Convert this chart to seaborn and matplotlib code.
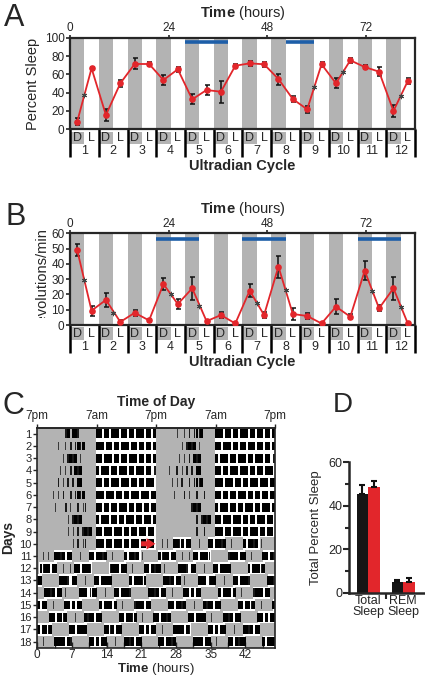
import numpy as np
import pandas as pd
import seaborn as sns
import matplotlib.pyplot as plt
from matplotlib.patches import Rectangle
from matplotlib.colors import ListedColormap

# ---- A: percent sleep per half (D, L) of each 7 h ultradian cycle
sleep_mean = [8.3, 66.6, 15.6, 50.2, 71.3, 71.3, 53.8, 65.5, 32.7, 42.9, 41.0, 69.4,
              72.0, 71.0, 54.9, 33.0, 21.8, 71.0, 50.2, 75.3, 68.0, 62.9, 20.0, 52.7]
sleep_err = [4, 1.5, 6.5, 4, 6, 2, 5.5, 3, 5.5, 5.5, 12, 2,
             3, 2.5, 6, 3, 3.5, 2.5, 5.5, 3, 2, 5, 6.5, 3]
sleep_star_cycle = [1, 9, 10, 12]
sleep_star_y = [37, 46, 63, 36]
sleep_blue = [(28, 38.5), (52.5, 59.5)]

# ---- B: wheel running (revolutions/min)
wheel_mean = [49, 9.4, 16.4, 2.0, 8.0, 3.0, 26.8, 13.7, 24.0, 2.5, 6.5, 1.0,
              22.5, 6.5, 38.2, 7.2, 5.9, 1.0, 12.0, 5.4, 35.5, 10.9, 24.0, 1.0]
wheel_err = [4, 3.3, 4.4, 1, 2, 1, 3.8, 3, 7.6, 1, 2, 0.5,
             4.4, 2, 7.2, 3.8, 2, 0.5, 4.8, 1.5, 6.2, 2, 7.6, 0.5]
wheel_star_cycle = [1, 2, 4, 5, 7, 8, 11, 12]
wheel_star_y = [29.4, 8, 20, 12.4, 14.6, 23, 22.5, 12]
wheel_blue = [(21, 31.5), (42, 52.5), (70, 80.5)]

# ---- C: actogram, one string per day (48 bins of 30 min from 7pm)
# '.' none, '1' sparse, '2' medium, '3' dense activity
act_days = [
    "...........23.332.......33.33.333.33.33.333.33.3",
    "........1..1.2.2323.....333.33.33.333.33.33.33.3",
    "..........1.2323.1......33.333.33.33.333.33.33.3",
    ".........1.1.2.323......3.333.33.333.33.333.33.2",
    ".....1..2.1.2.2.33......33.33.333.333.33.33.333.",
    "......1.1.2..2.2323.....333.333.33.33.333.333.33",
    ".......1...2.1..2.12....33.33.33.333.33.33.33.33",
    "............1.2323......3.333.33.33.333.33.333.3",
    "............1.1.2.2323..33.333.333.33.33.333.33.",
    "..............1.2.12....333.33.333.33.333.33.33.",
    "..1.1.." "3323.33" "...1..." "33.3323" "..1...." "3.3323." "1.....",
    "." "3233.33" "..1..1." "33.3332" "......." "2333.33" "..1...." "33.32",
    "33" ".1....." "3332.33" "...1..." "33.3333" "......." "3.33323" "....",
    "..." "3323.33" ".1....." "333.233" "...1..." "33.3332" "......." "332",
    "3.33" "..1...." "33.3.33" "......." "3.333.3" "..1...." "2333.33" "..",
    "....." "33.3323" "...1..." "3233.33" "......." "33.3323" "..1...." "3",
    "3.3323" "......." "33.3333" "..1...." "3323.33" "......." "33.3.33",
    "..1...." "3333.32" "......." "33.3.33" "...1..." "3323.33" "......",
    "." "33.3323" "......." "3333.33" "..1...." "33.3233" "......." "3.333",
]
ld_days = 10          # 12:12 LD for the first 10 days, then 3.5:3.5 ultradian
day_ticks = list(range(1, 19))
tod_labels = ['7pm', '7am', '7pm', '7am', '7pm']

# ---- D: total and REM sleep
sleep_kind = ['Total\nSleep', 'REM\nSleep']
ctrl_mean = [45.3, 4.8]
ctrl_err = [4.3, 1.0]
trt_mean = [48.6, 4.8]
trt_err = [2.6, 1.8]

sns.set_style("white")
plt.rcParams['font.family'] = ['Liberation Sans', 'DejaVu Sans']
plt.rcParams['mathtext.fontset'] = 'custom'
plt.rcParams['mathtext.rm'] = 'Liberation Sans'
plt.rcParams['mathtext.bf'] = 'Liberation Sans:bold'
plt.rcParams['axes.linewidth'] = 1.6

GRAY = '#b3b3b3'
RED = '#e2262b'
BLUE = '#1d5ea8'
W, H = 425, 677


def box(l, t, r, b):
    return [l / W, 1 - b / H, (r - l) / W, (b - t) / H]


fig = plt.figure(figsize=(W / 100, H / 100), dpi=100)
half_centers = np.arange(24) * 3.5 + 1.75


def ultradian_panel(ax, mean, err, star_cycle, star_y, blue, ymax, ystep, blue_y):
    ax.set_xlim(0, 84)
    ax.set_ylim(0, ymax)
    for c in range(12):
        ax.axvspan(c * 7, c * 7 + 3.5, color=GRAY, lw=0, zorder=0)
    for a, b in blue:
        ax.plot([a, b], [blue_y, blue_y], color=BLUE, lw=2.6, solid_capstyle='butt', zorder=2)
    ax.errorbar(half_centers, mean, yerr=err, fmt='none', ecolor='#111111',
                elinewidth=1.1, capsize=1.8, capthick=1.1, zorder=3)
    sns.lineplot(x=half_centers, y=mean, ax=ax, color=RED, lw=1.3, marker='o',
                 markersize=4.8, markeredgewidth=0, zorder=4)
    star_x = [(c - 1) * 7 + 3.5 for c in star_cycle]
    ax.plot(star_x, star_y, ls='none', marker=(6, 2, 0), ms=3.8, mew=0.7,
            color='#444444', zorder=5)

    ax.xaxis.tick_top()
    ax.set_xticks([0, 24, 48, 72])
    ax.tick_params(axis='x', top=True, bottom=False, direction='out', length=2,
                   width=1.2, labelsize=8.5, pad=0.5)
    ax.set_yticks(range(0, ymax + 1, ystep))
    ax.tick_params(axis='y', left=True, direction='out', length=3, width=1.2,
                   labelsize=8.5, pad=1)

    tr = ax.get_xaxis_transform()
    for c in range(12):
        ax.add_patch(Rectangle((c * 7 + 0.3, -0.16), 3.2, 0.134, transform=tr,
                               color=GRAY, lw=0, clip_on=False))
        ax.text(c * 7 + 1.75, -0.094, 'D', transform=tr, ha='center', va='center', fontsize=9)
        ax.text(c * 7 + 5.25, -0.094, 'L', transform=tr, ha='center', va='center', fontsize=9)
        ax.text(c * 7 + 3.5, -0.237, str(c + 1), transform=tr, ha='center', va='center', fontsize=9)
    for c in range(13):
        ax.plot([c * 7, c * 7], [0, -0.30], transform=tr, color='black', lw=1.8,
                clip_on=False, solid_capstyle='butt')
    ax.text(42, -0.40, 'Ultradian Cycle', transform=tr, ha='center', va='center',
            fontsize=10.5, fontweight='bold')


# ---- A
axA = fig.add_axes(box(70, 37.7, 415, 129.3))
ultradian_panel(axA, sleep_mean, sleep_err, sleep_star_cycle, sleep_star_y,
                sleep_blue, 100, 20, 95)
axA.set_ylabel('Percent Sleep', fontsize=10.5)
axA.yaxis.set_label_coords(-0.087, 0.5)
fig.text(242.5 / W, 1 - 12.5 / H, r'$\mathbf{Time}$ (hours)', fontsize=10.5, ha='center', va='center')

# ---- B
axB = fig.add_axes(box(70, 233.3, 415, 325))
ultradian_panel(axB, wheel_mean, wheel_err, wheel_star_cycle, wheel_star_y,
                wheel_blue, 60, 10, 56.3)
fig.text(242.5 / W, 1 - 208.5 / H, r'$\mathbf{Time}$ (hours)', fontsize=10.5, ha='center', va='center')
ylab = fig.text(42 / W, 1 - 280 / H, 'Revolutions/min', rotation=90, ha='center',
                va='center', fontsize=10.5)
ylab.set_clip_path(Rectangle((0, 1 - 318 / H), 1, 318 / H, transform=fig.transFigure))

# ---- C
axC = fig.add_axes(box(37.3, 427.7, 275, 647.7))
n_rows = len(act_days) - 1
nb = len(act_days[0])
bg = np.zeros((n_rows, 2 * nb))
for r in range(n_rows):
    for j in range(2 * nb):
        t = (r + j // nb) * 24 + (j % nb) * 0.5 + 0.25
        if t < ld_days * 24:
            bg[r, j] = (t % 24) < 12
        else:
            bg[r, j] = ((t - ld_days * 24) % 7) < 3.5
axC.imshow(bg, cmap=ListedColormap(['white', GRAY]), vmin=0, vmax=1, aspect='auto',
           extent=[0, 48, n_rows + 0.5, 0.5], interpolation='nearest', zorder=0)

widths = {'1': 0.16, '2': 0.32, '3': 0.6}
shades = {'1': '#3a3a3a', '2': '#1a1a1a', '3': 'black'}
xs, ys, ws, cs = [], [], [], []
for r in range(n_rows):
    row = (act_days[r].ljust(nb, '.')[:nb]) + (act_days[r + 1].ljust(nb, '.')[:nb])
    for j, ch in enumerate(row):
        if ch in widths:
            xs.append(j * 0.5 + 0.25)
            ys.append(r + 1)
            ws.append(widths[ch])
            cs.append(shades[ch])
axC.bar(xs, 0.72, bottom=np.array(ys) - 0.36, width=ws, color=cs, linewidth=0, zorder=1)
axC.set_xlim(0, 48)
axC.set_ylim(n_rows + 0.5, 0.5)
for s in axC.spines.values():
    s.set_linewidth(1.2)
axC.set_yticks(day_ticks)
axC.tick_params(axis='y', left=True, direction='out', length=3, width=1, labelsize=8, pad=1)
axC.set_xticks(range(0, 43, 7))
axC.set_xticks(np.arange(3.5, 48, 7), minor=True)
axC.tick_params(axis='x', which='both', bottom=True, direction='in', length=4, width=1,
                labelsize=8.5, pad=1)
axC.set_xlabel(r'$\mathbf{Time}$ (hours)', fontsize=9.5, labelpad=0)
axC.set_ylabel('Days', fontsize=10, fontweight='bold')
axC.yaxis.set_label_coords(-0.092, 0.5)
axC.annotate('', xy=(24.4, 10), xytext=(20.4, 10),
             arrowprops=dict(arrowstyle='simple,head_length=0.7,head_width=0.9,tail_width=0.4',
                             color=RED, mutation_scale=9, lw=0), zorder=3)
sec = axC.secondary_xaxis('top')
sec.set_xticks([0, 12, 24, 36, 48], tod_labels)
sec.tick_params(length=3, width=1, labelsize=8.5, pad=1)
sec.spines['top'].set_linewidth(1.2)
sec.set_xlabel('Time of Day', fontsize=10, fontweight='bold', labelpad=3)

# ---- D
axD = fig.add_axes(box(349.3, 462.3, 425, 592.7))
df = pd.DataFrame({
    'kind': sleep_kind * 2,
    'group': ['control'] * 2 + ['treated'] * 2,
    'value': ctrl_mean + trt_mean,
})
sns.barplot(data=df, x='kind', y='value', hue='group', palette=['#151515', RED],
            width=0.667, errorbar=None, saturation=1, legend=False, ax=axD, linewidth=0)
for cont, errs in zip(axD.containers, [ctrl_err, trt_err]):
    for bar, e in zip(cont, errs):
        axD.errorbar(bar.get_x() + bar.get_width() / 2, bar.get_height(), yerr=[[0], [e]],
                     fmt='none', ecolor='#111111', elinewidth=1.5, capsize=2.5, capthick=1.5)
axD.set_xlim(-0.543, 1.62)
axD.set_ylim(0, 60)
sns.despine(ax=axD)
axD.spines['left'].set_linewidth(1.8)
axD.spines['bottom'].set_linewidth(1.8)
axD.set_yticks([0, 20, 40, 60])
axD.set_yticks([10, 30, 50], minor=True)
axD.tick_params(axis='y', which='major', left=True, direction='out', length=4, width=1.5,
                labelsize=9, pad=1)
axD.tick_params(axis='y', which='minor', left=True, direction='out', length=3, width=1.5)
axD.set_xticks([0.5], minor=True)
axD.tick_params(axis='x', which='major', length=0, labelsize=9, pad=2)
axD.tick_params(axis='x', which='minor', bottom=True, direction='out', length=4, width=1.5)
for lab in axD.get_xticklabels():
    lab.set_linespacing(0.85)
axD.set_xlabel('')
axD.set_ylabel('Total Percent Sleep', fontsize=9.5)
axD.yaxis.set_label_coords(-0.36, 0.5)

# ---- panel letters
fig.text(4 / W, 1 - 17.5 / H, 'A', fontsize=22, ha='left', va='center')
fig.text(6 / W, 1 - 217 / H, 'B', fontsize=22, ha='left', va='center')
fig.text(3 / W, 1 - 406 / H, 'C', fontsize=22, ha='left', va='center')
fig.text(333 / W, 1 - 405 / H, 'D', fontsize=20, ha='left', va='center')

fig.savefig('out.png', dpi=100)
